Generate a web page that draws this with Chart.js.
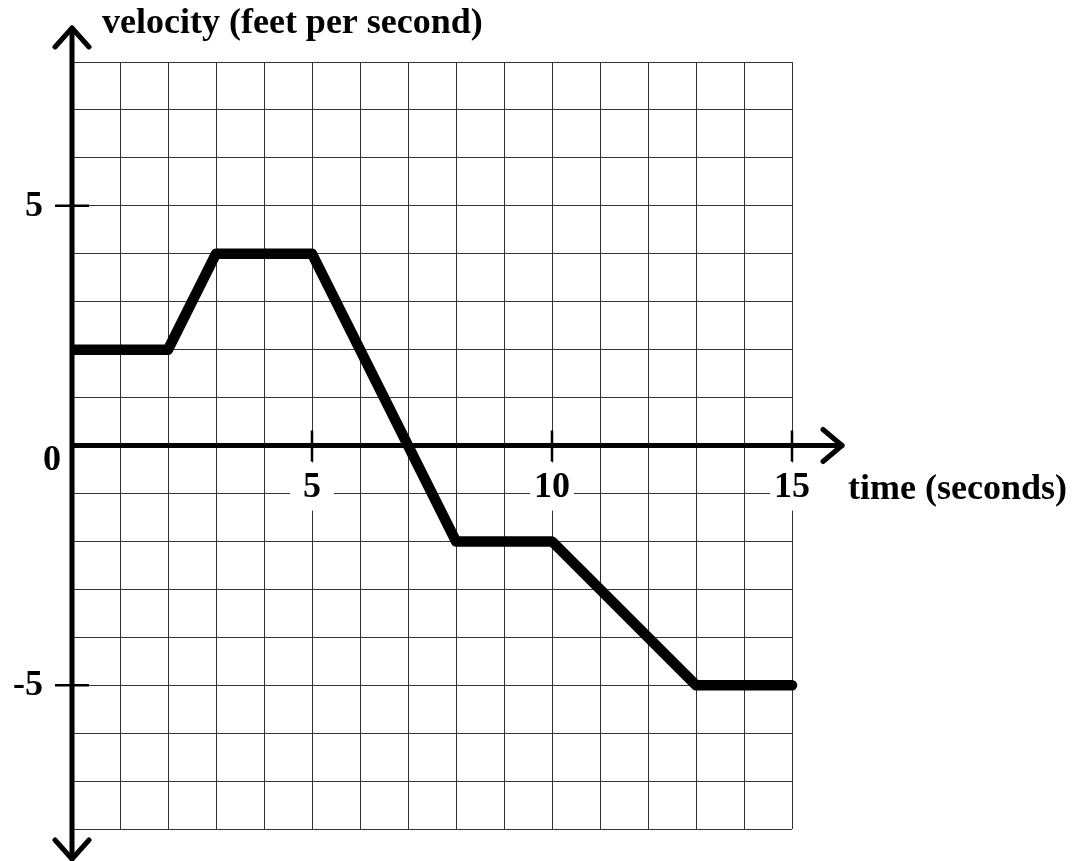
<!DOCTYPE html>
<html>
<head>
<meta charset="utf-8">
<script src="https://cdn.jsdelivr.net/npm/chart.js@4"></script>
<style>
  html, body { margin: 0; padding: 0; background: #fff; }
  canvas { display: block; }
</style>
</head>
<body>
<canvas id="chart" width="1073" height="861"></canvas>
<script>
// === Data ===
const times = [0, 2, 3, 5, 8, 10, 13, 15];
const velocities = [2, 2, 4, 4, -2, -2, -5, -5];
const xTickValues = [5, 10, 15];
const xTickLabels = ['5', '10', '15'];
const yTickValues = [5, 0, -5];
const yTickLabels = ['5', '0', '-5'];
const yAxisTitle = 'velocity (feet per second)';
const xAxisTitle = 'time (seconds)';

const FONT = 'bold 36px "Liberation Serif", "Times New Roman", serif';

// === Axes, arrows and labels drawn on top of the grid ===
const axesPlugin = {
    id: 'axes',
    beforeDatasetsDraw(chart) {
        const ctx = chart.ctx;
        const xs = chart.scales.x, ys = chart.scales.y;
        const area = chart.chartArea;
        const x0 = xs.getPixelForValue(0);
        const y0 = ys.getPixelForValue(0);

        ctx.save();
        ctx.font = FONT;
        ctx.fillStyle = '#000';

        // x tick labels with white boxes that break the grid
        xTickValues.forEach((v, i) => {
            const px = xs.getPixelForValue(v);
            const w = Math.max(44, ctx.measureText(xTickLabels[i]).width + 8);
            ctx.fillStyle = '#fff';
            ctx.fillRect(px - w / 2, y0 + 17, w, 48);
            ctx.fillStyle = '#000';
            ctx.textAlign = 'center';
            ctx.textBaseline = 'middle';
            ctx.fillText(xTickLabels[i], px, y0 + 42);
        });

        // axis lines
        ctx.strokeStyle = '#000';
        ctx.lineCap = 'round';
        ctx.lineJoin = 'round';
        ctx.lineWidth = 5;
        ctx.beginPath();
        ctx.moveTo(x0, area.top - 34);
        ctx.lineTo(x0, area.bottom + 30);
        ctx.moveTo(x0, y0);
        ctx.lineTo(area.right + 50, y0);
        ctx.stroke();

        // arrow heads
        ctx.beginPath();
        ctx.moveTo(x0 - 17, area.top - 15);
        ctx.lineTo(x0, area.top - 34);
        ctx.lineTo(x0 + 17, area.top - 15);
        ctx.moveTo(x0 - 17, area.bottom + 11);
        ctx.lineTo(x0, area.bottom + 30);
        ctx.lineTo(x0 + 17, area.bottom + 11);
        ctx.moveTo(area.right + 31, y0 - 16);
        ctx.lineTo(area.right + 50, y0);
        ctx.lineTo(area.right + 31, y0 + 16);
        ctx.stroke();

        // tick marks
        ctx.lineWidth = 2.5;
        ctx.lineCap = 'butt';
        ctx.beginPath();
        xTickValues.forEach(v => {
            const px = xs.getPixelForValue(v);
            ctx.moveTo(px, y0 - 15);
            ctx.lineTo(px, y0 + 16);
        });
        yTickValues.forEach(v => {
            if (v === 0) return;
            const py = ys.getPixelForValue(v);
            ctx.moveTo(x0 - 17, py);
            ctx.lineTo(x0 + 17, py);
        });
        ctx.stroke();

        // y tick labels
        ctx.textBaseline = 'middle';
        yTickValues.forEach((v, i) => {
            const py = ys.getPixelForValue(v);
            if (v === 0) {
                ctx.textAlign = 'center';
                ctx.fillText(yTickLabels[i], x0 - 20, py + 15);
            } else {
                ctx.textAlign = 'right';
                ctx.fillText(yTickLabels[i], x0 - 29, py + 1);
            }
        });

        // axis titles
        ctx.textAlign = 'left';
        ctx.textBaseline = 'alphabetic';
        ctx.fillText(yAxisTitle, x0 + 30, 33);
        ctx.fillText(xAxisTitle, area.right + 56, y0 + 53);

        ctx.restore();
    }
};

new Chart(document.getElementById('chart'), {
    type: 'line',
    data: {
        labels: times,
        datasets: [{
            data: times.map((t, i) => ({ x: t, y: velocities[i] })),
            borderColor: '#000',
            borderWidth: 10.5,
            borderCapStyle: 'round',
            borderJoinStyle: 'round',
            pointRadius: 0,
            tension: 0,
            fill: false,
            // clip only at the y axis, let the round end stick out on the right
            clip: { left: 0, top: false, right: false, bottom: false },
        }]
    },
    options: {
        responsive: false,
        animation: false,
        layout: { padding: { left: 72, right: 281, top: 62, bottom: 32 } },
        plugins: { legend: { display: false }, tooltip: { enabled: false } },
        scales: {
            x: {
                type: 'linear', min: 0, max: 15,
                ticks: { display: false, stepSize: 1 },
                grid: { color: '#333', lineWidth: 1, drawTicks: false },
                border: { display: false },
            },
            y: {
                type: 'linear', min: -8, max: 8,
                ticks: { display: false, stepSize: 1 },
                grid: { color: '#333', lineWidth: 1, drawTicks: false },
                border: { display: false },
            }
        }
    },
    plugins: [axesPlugin]
});
</script>
</body>
</html>
